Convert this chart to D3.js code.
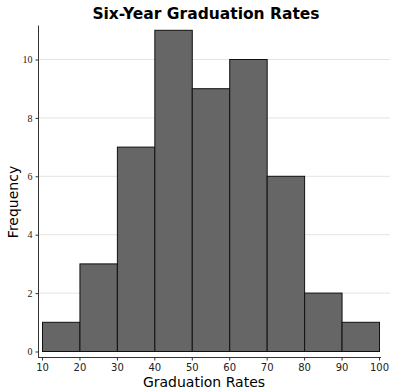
<!DOCTYPE html>
<html lang="en">
<head>
    <meta charset="utf-8">
    <script src="https://cdn.jsdelivr.net/npm/d3@7"></script>
    <style>
        body { margin: 0; background: white; }
        .bar { fill: #666666; stroke: #111; stroke-width: 1px; }
        .grid line { stroke: #e4e4e4; stroke-width: 1px; }
        .axis path, .axis line { stroke: #333; }
        .ylab text { font-family: "Liberation Serif", serif; font-size: 10px; fill: #222; }
        .xlab text { font-family: "DejaVu Sans", sans-serif; font-size: 10px; fill: #222; }
    </style>
</head>
<body>
<script>
    // bin edges and counts
    let binStarts = [10, 20, 30, 40, 50, 60, 70, 80, 90];
    let counts = [1, 3, 7, 11, 9, 10, 6, 2, 1];
    let xTicks = [10, 20, 30, 40, 50, 60, 70, 80, 90, 100];
    let yTicks = [0, 2, 4, 6, 8, 10];

    let svg = d3.select("body").append("svg")
        .attr("width", 393).attr("height", 391);

    let x = d3.scaleLinear().domain([10, 100]).range([42, 379]);
    let y = d3.scaleLinear().domain([0, 10]).range([351, 59]);

    // gridlines
    svg.append("g").attr("class", "grid").selectAll("line")
        .data(yTicks.filter(d => d > 0))
        .enter().append("line")
        .attr("x1", 38).attr("x2", 390)
        .attr("y1", d => y(d) + 0.5).attr("y2", d => y(d) + 0.5);

    // bars
    svg.append("g").selectAll("rect")
        .data(binStarts)
        .enter().append("rect")
        .attr("class", "bar")
        .attr("x", d => x(d) + 0.5)
        .attr("y", (d, i) => y(counts[i]) + 0.5)
        .attr("width", d => x(d + 10) - x(d))
        .attr("height", (d, i) => y(0) - y(counts[i]));

    // y axis
    let yAxis = svg.append("g").attr("class", "axis ylab")
        .attr("transform", "translate(38.5,0.5)")
        .call(d3.axisLeft(y).tickValues(yTicks).tickSize(3).tickSizeOuter(0));
    yAxis.select(".domain").attr("d", "M0,25V357");

    // x axis
    let xAxis = svg.append("g").attr("class", "axis xlab")
        .attr("transform", "translate(0,357.5)")
        .call(d3.axisBottom(x).tickValues(xTicks).tickSize(3).tickSizeOuter(0));
    xAxis.select(".domain").attr("d", "M38,0H381");
    xAxis.selectAll("text").attr("dy", "0.75em");

    // title
    svg.append("text")
        .attr("x", 206).attr("y", 19)
        .attr("text-anchor", "middle")
        .style("font-family", "DejaVu Sans, sans-serif")
        .style("font-weight", "bold")
        .style("font-size", "15.5px")
        .text("Six-Year Graduation Rates");

    svg.append("text")
        .attr("x", 204).attr("y", 387)
        .attr("text-anchor", "middle")
        .style("font-family", "DejaVu Sans, sans-serif")
        .style("font-size", "14px")
        .text("Graduation Rates");

    svg.append("text")
        .attr("transform", "translate(18,202) rotate(-90)")
        .attr("text-anchor", "middle")
        .style("font-family", "DejaVu Sans, sans-serif")
        .style("font-size", "14px")
        .text("Frequency");
</script>
</body>
</html>
